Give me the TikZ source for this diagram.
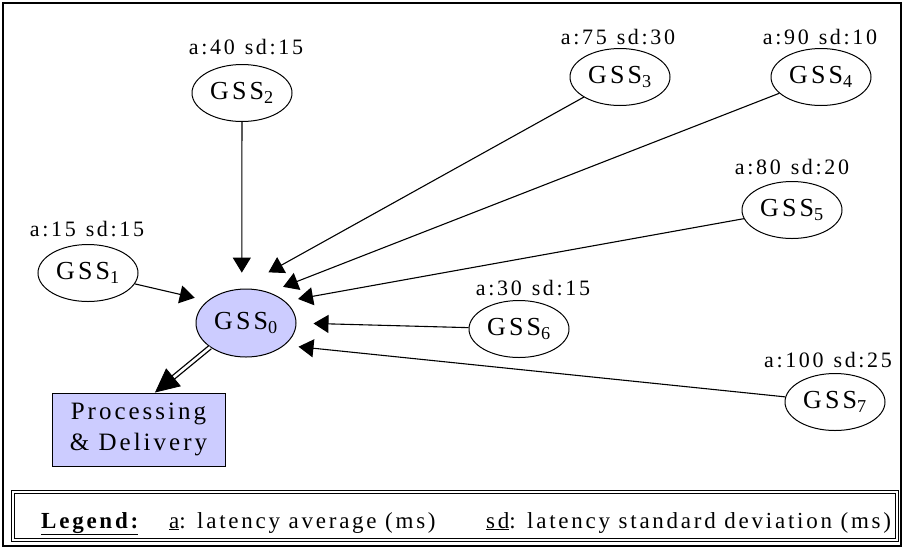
\documentclass[tikz,border=0pt]{standalone}
\usepackage{fontspec}
\setmainfont{Liberation Serif}[LetterSpace=12]
\usetikzlibrary{arrows.meta,shapes.geometric,calc}
\definecolor{lav}{HTML}{CCCCFF}
\begin{document}
\begin{tikzpicture}[x=1pt,y=-1pt,
  gss/.style={ellipse, draw, line width=1pt, minimum width=100pt, minimum height=57pt, inner sep=0pt, font=\fontsize{26}{28}\selectfont},
  lbl/.style={font=\fontsize{22}{24}\selectfont, inner sep=0pt},
  conn/.style={line width=1.1pt, -{Triangle[length=15pt,width=18pt]}},
  leg/.style={font=\fontsize{23}{24}\selectfont, inner sep=0pt, anchor=base west},
]
\useasboundingbox (0,0) rectangle (905,550);
\draw[line width=1.2pt] (3,3) rectangle (901,546);

% nodes
\node[gss, fill=lav, minimum height=68pt] (g0) at (246,323) {GSS\textsubscript{0}};
\node[gss] (g1) at (88,273) {GSS\textsubscript{1}};
\node[gss] (g2) at (242,93) {GSS\textsubscript{2}};
\node[gss] (g3) at (620,77) {GSS\textsubscript{3}};
\node[gss] (g4) at (821,77) {GSS\textsubscript{4}};
\node[gss] (g5) at (792,210) {GSS\textsubscript{5}};
\node[gss] (g6) at (519,329) {GSS\textsubscript{6}};
\node[gss] (g7) at (835,402) {GSS\textsubscript{7}};
\node[draw, fill=lav, line width=1pt, minimum width=173pt, minimum height=73pt, inner sep=0pt, align=center, font=\fontsize{25}{31}\selectfont] (pd) at (138.5,429.5) {Processing\\\& Delivery};

% labels
\node[lbl] (l1) at (87,229) {a:15\hspace{10pt}sd:15};
\node[lbl] (l2) at (246,47) {a:40\hspace{10pt}sd:15};
\node[lbl] (l3) at (618,37) {a:75\hspace{10pt}sd:30};
\node[lbl] (l4) at (820,37) {a:90\hspace{10pt}sd:10};
\node[lbl] (l5) at (792,167) {a:80\hspace{10pt}sd:20};
\node[lbl] (l6) at (533,288) {a:30\hspace{10pt}sd:15};
\node[lbl] (l7) at (828,360) {a:100\hspace{10pt}sd:25};

% connectors
\draw[conn, shorten >=13pt] (g1) -- (g0.150);
\draw[conn, shorten >=16pt] (g2) -- (g0.97);
\draw[conn, shorten >=34pt] (g3) -- (g0.102);
\draw[conn, shorten >=15pt] (g4) -- (g0.53);
\draw[conn, shorten >=13pt] (g5) -- (g0.29);
\draw[conn, shorten >=17pt] (g6) -- (g0.0);
\draw[conn, shorten >=14pt] (g7) -- (g0.330);

% double arrow to processing
\draw[line width=1.3pt, double=white, double distance=2.6pt, shorten >=22pt] (g0.214) -- (pd.66);
\draw[line width=0.8pt, -{Triangle[length=24pt,width=23pt]}] ($(pd.66)!24pt!(g0.214)$) -- (pd.66);

% legend
\node[draw, line width=1.2pt, double, double distance=2.2pt, minimum width=884pt, minimum height=48pt, inner sep=0pt] (legend) at (455,516) {};
\node[leg] (lg1) at (41,528) {\bfseries\underline{Legend:}};
\node[leg] (lg2) at (169,528) {\underline{a}: latency average (ms)};
\node[leg] (lg3) at (486,528) {\underline{sd}: latency standard deviation (ms)};
\end{tikzpicture}
\end{document}
